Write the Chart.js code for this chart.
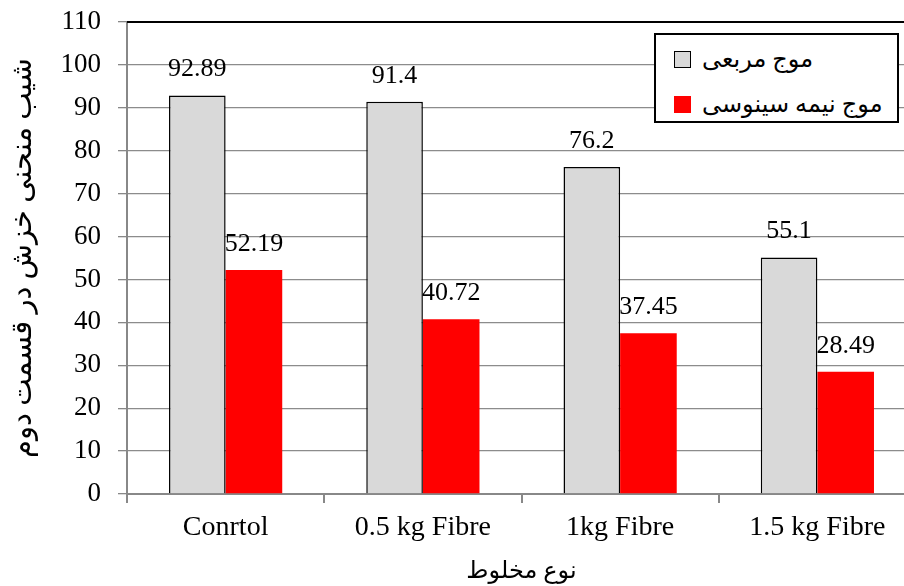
<!DOCTYPE html>
<html>
<head>
<meta charset="utf-8">
<script src="https://cdn.jsdelivr.net/npm/chart.js@4.4.1/dist/chart.umd.min.js"></script>
<style>
  body { margin: 0; width: 904px; height: 586px; overflow: hidden; background: #fff; position: relative; }
  #wrap { position: absolute; left: 0; top: 0; width: 916px; height: 586px; }
  #legend {
    position: absolute; left: 654px; top: 33px; width: 241px; height: 86px;
    border: 2px solid #000; background: #fff;
    font-family: "Liberation Serif", "DejaVu Sans", serif; font-size: 24px; color: #000;
  }
  .item { position: absolute; left: 18px; height: 30px; display: flex; align-items: center; }
  .box { width: 17px; height: 17px; margin-right: 11px; box-sizing: border-box; }
  .item span { direction: rtl; white-space: nowrap; }
</style>
</head>
<body>
<div id="wrap"><canvas id="chart"></canvas></div>
<div id="legend"></div>

<script>
const categories = ["Conrtol", "0.5 kg Fibre", "1kg Fibre", "1.5 kg Fibre"];
const squareWave = [92.89, 91.4, 76.2, 55.1];
const halfSineWave = [52.19, 40.72, 37.45, 28.49];
const seriesNames = ["موج مربعی", "موج نیمه سینوسی"];
const seriesColors = ["#d9d9d9", "#ff0000"];
const yMin = 0, yMax = 110, yStep = 10;
const xTitle = "نوع مخلوط";
const yTitle = "شیب منحنی خزش در قسمت دوم";

const FONT = "'Liberation Serif', 'DejaVu Sans', serif";

/* ===============================
   VALUE LABELS ABOVE BARS
================================ */
const barLabels = {
  id: "barLabels",
  afterDatasetsDraw(chart) {
    const ctx = chart.ctx;
    ctx.save();
    ctx.font = "26px " + FONT;
    ctx.fillStyle = "#000";
    ctx.textAlign = "center";
    ctx.textBaseline = "middle";
    chart.data.datasets.forEach((ds, i) => {
      chart.getDatasetMeta(i).data.forEach((bar, j) => {
        ctx.fillText(String(ds.data[j]), bar.x, bar.y - 26);
      });
    });
    ctx.restore();
  }
};

/* top border of the plot */
const topBorder = {
  id: "topBorder",
  afterDraw(chart) {
    const { ctx, chartArea } = chart;
    ctx.save();
    ctx.strokeStyle = "#000";
    ctx.lineWidth = 2;
    ctx.beginPath();
    ctx.moveTo(chartArea.left, chartArea.top);
    ctx.lineTo(chartArea.right, chartArea.top);
    ctx.stroke();
    ctx.restore();
  }
};

new Chart(document.getElementById("chart"), {
  type: "bar",
  data: {
    labels: categories,
    datasets: [
      {
        label: seriesNames[0],
        data: squareWave,
        backgroundColor: seriesColors[0],
        borderColor: "#000",
        borderWidth: 1.5
      },
      {
        label: seriesNames[1],
        data: halfSineWave,
        backgroundColor: seriesColors[1],
        borderWidth: 0
      }
    ]
  },
  options: {
    responsive: true,
    maintainAspectRatio: false,
    animation: false,
    layout: { padding: { top: 22, right: 0, left: 0, bottom: 0 } },
    plugins: {
      legend: { display: false },
      tooltip: { enabled: false }
    },
    datasets: {
      bar: { barPercentage: 1, categoryPercentage: 0.574 }
    },
    scales: {
      x: {
        grid: { drawOnChartArea: false, drawTicks: true, tickLength: 9, color: "#888", lineWidth: 2 },
        border: { color: "#888", width: 2 },
        ticks: { color: "#000", font: { family: FONT, size: 28 }, padding: 8 },
        title: {
          display: true, text: xTitle, color: "#000",
          font: { family: FONT, size: 24 }, padding: { top: 0, bottom: 0 }
        },
        afterFit: s => { s.height = 92; }
      },
      y: {
        min: yMin,
        max: yMax,
        grid: { color: "#8c8c8c", lineWidth: 1.3, tickLength: 9, tickColor: "#888" },
        border: { color: "#888", width: 2 },
        ticks: { stepSize: yStep, color: "#000", font: { family: FONT, size: 27 }, padding: 17 },
        title: {
          display: true, text: yTitle, color: "#000",
          font: { family: FONT, size: 29 }, padding: { top: 6, bottom: 0 }
        },
        afterFit: s => { s.width = 127; s.paddingTop = 0; s.paddingBottom = 0; }
      }
    }
  },
  plugins: [barLabels, topBorder]
});

/* ===============================
   LEGEND (HTML)
================================ */
const legend = document.getElementById("legend");
seriesNames.forEach((name, i) => {
  const row = document.createElement("div");
  row.className = "item";
  row.style.top = (i === 0 ? 9 : 54) + "px";
  const box = document.createElement("div");
  box.className = "box";
  box.style.background = seriesColors[i];
  box.style.border = i === 0 ? "1.5px solid #000" : "none";
  const txt = document.createElement("span");
  txt.textContent = name;
  row.appendChild(box);
  row.appendChild(txt);
  legend.appendChild(row);
});
</script>
</body>
</html>
